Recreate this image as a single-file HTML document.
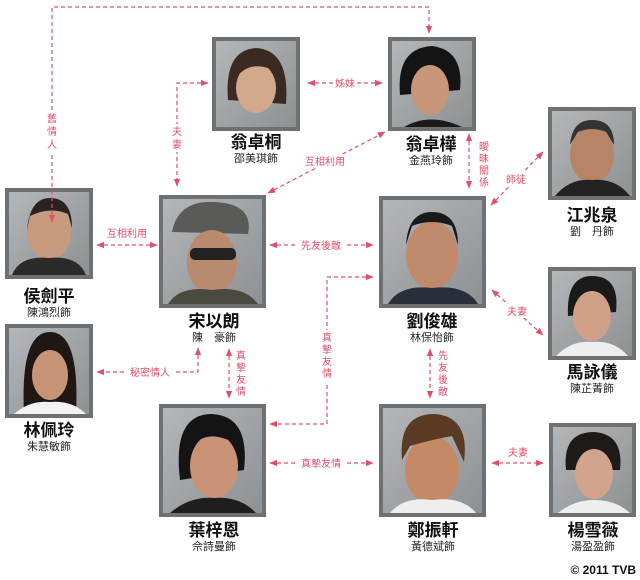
<!DOCTYPE html>
<html><head><meta charset="utf-8"><style>
html,body{margin:0;padding:0;background:#fff;}
svg{display:block}
.n{font-family:"Liberation Sans","Noto Sans CJK TC",sans-serif;font-weight:bold;font-size:17px;fill:#111;text-anchor:middle}
.s{font-family:"Liberation Sans","Noto Sans CJK TC",sans-serif;font-size:11px;fill:#222;text-anchor:middle}
.l{font-family:"Liberation Sans","Noto Sans CJK TC",sans-serif;font-size:10px;fill:#e0506a;text-anchor:middle}
.c{fill:none;stroke:#e0506a;stroke-width:1.2;stroke-dasharray:4 3}
</style></head><body>
<svg width="640" height="580" viewBox="0 0 640 580" xmlns="http://www.w3.org/2000/svg">
<defs>
<marker id="a" viewBox="0 0 10 10" refX="9" refY="5" markerWidth="8" markerHeight="8" orient="auto-start-reverse" markerUnits="userSpaceOnUse"><path d="M0,1 L10,5 L0,9 z" fill="#e0506a"/></marker>
<linearGradient id="g" x1="0" y1="0" x2="1" y2="1"><stop offset="0" stop-color="#b4b7ba"/><stop offset="1" stop-color="#8e9194"/></linearGradient>
<g id="p"><rect x="0" y="0" width="1" height="1" fill="#6e7174"/></g>
</defs>

<!-- photos -->
<g>
<rect x="5" y="188" width="88" height="91" fill="#6e7174"/><rect x="9" y="192" width="80" height="83" fill="url(#g)"/><ellipse cx="49" cy="232" rx="22" ry="28" fill="#c89a7e"/><path d="M27,230 Q30,198 50,198 Q72,198 72,228 L68,214 Q50,206 30,216 Z" fill="#2a2220"/><path d="M12,275 Q20,255 49,258 Q78,255 86,275 Z" fill="#2a2a2a"/>
<rect x="212" y="37" width="88" height="94" fill="#6e7174"/><rect x="216" y="41" width="80" height="86" fill="url(#g)"/><path d="M228,100 Q224,50 256,48 Q290,50 286,104 Z" fill="#3a2a22"/><ellipse cx="256" cy="88" rx="20" ry="25" fill="#d2a88c"/><path d="M236,78 Q250,58 278,72 L278,60 Q256,48 236,64Z" fill="#3a2a22"/>
<rect x="388" y="37" width="88" height="94" fill="#6e7174"/><rect x="392" y="41" width="80" height="86" fill="url(#g)"/><path d="M400,95 Q396,48 432,46 Q464,50 460,90 Z" fill="#141414"/><ellipse cx="430" cy="90" rx="19" ry="25" fill="#c8967a"/><path d="M404,127 Q430,112 462,127Z" fill="#1a1a1a"/>
<rect x="548" y="107" width="88" height="93" fill="#6e7174"/><rect x="552" y="111" width="80" height="85" fill="url(#g)"/><ellipse cx="592" cy="155" rx="22" ry="28" fill="#b88466"/><path d="M570,145 Q572,120 592,120 Q614,120 614,145 L606,132 Q592,126 578,132Z" fill="#333"/><path d="M555,196 Q570,178 592,180 Q616,178 630,196Z" fill="#222"/>
<rect x="159" y="195" width="107" height="113" fill="#6e7174"/><rect x="163" y="199" width="99" height="105" fill="url(#g)"/><path d="M172,232 Q178,200 215,202 Q254,204 248,234 Z" fill="#5a5a58"/><ellipse cx="212" cy="262" rx="25" ry="32" fill="#b88a70"/><rect x="190" y="248" width="46" height="12" rx="5" fill="#222"/><path d="M168,304 Q180,285 212,290 Q244,285 258,304Z" fill="#4a4a40"/>
<rect x="379" y="196" width="107" height="112" fill="#6e7174"/><rect x="383" y="200" width="99" height="104" fill="url(#g)"/><ellipse cx="432" cy="255" rx="26" ry="34" fill="#c08a6c"/><path d="M406,245 Q408,212 432,212 Q458,212 458,245 L452,226 Q432,218 412,226Z" fill="#1a1a1a"/><path d="M388,304 Q400,284 432,288 Q466,284 478,304Z" fill="#2a2e3a"/>
<rect x="548" y="267" width="88" height="93" fill="#6e7174"/><rect x="552" y="271" width="80" height="85" fill="url(#g)"/><path d="M568,316 Q566,276 592,276 Q620,276 616,312Z" fill="#1a1a1a"/><ellipse cx="592" cy="316" rx="19" ry="25" fill="#d0a088"/><path d="M556,356 Q572,340 592,342 Q614,340 628,356Z" fill="#eee"/>
<rect x="5" y="324" width="88" height="94" fill="#6e7174"/><rect x="9" y="328" width="80" height="86" fill="url(#g)"/><path d="M24,414 Q20,332 50,332 Q80,332 76,414Z" fill="#1e1714"/><ellipse cx="50" cy="375" rx="18" ry="25" fill="#c89478"/><path d="M14,414 Q30,400 50,402 Q72,400 86,414Z" fill="#f2f2f2"/>
<rect x="159" y="404" width="107" height="113" fill="#6e7174"/><rect x="163" y="408" width="99" height="105" fill="url(#g)"/><path d="M180,480 Q172,414 212,414 Q250,416 244,470Z" fill="#141414"/><ellipse cx="214" cy="466" rx="24" ry="32" fill="#c99276"/><path d="M186,458 Q200,422 240,446 L238,430 Q214,416 186,436Z" fill="#141414"/><path d="M170,513 Q190,496 214,498 Q240,496 256,513Z" fill="#1e1e1e"/>
<rect x="379" y="404" width="107" height="113" fill="#6e7174"/><rect x="383" y="408" width="99" height="105" fill="url(#g)"/><ellipse cx="432" cy="470" rx="27" ry="34" fill="#c48a66"/><path d="M402,460 Q398,414 434,414 Q470,416 464,462 L452,436 Q430,440 410,446Z" fill="#5a3a22"/><path d="M390,513 Q404,496 432,500 Q462,496 476,513Z" fill="#eee"/>
<rect x="549" y="423" width="87" height="94" fill="#6e7174"/><rect x="553" y="427" width="79" height="86" fill="url(#g)"/><path d="M566,470 Q562,432 594,432 Q624,434 620,470Z" fill="#1e1a18"/><ellipse cx="594" cy="474" rx="19" ry="25" fill="#d2a48e"/><path d="M558,513 Q574,500 594,500 Q616,500 630,513Z" fill="#eee"/>
</g>

<!-- names -->
<text class="n" x="49" y="302">侯劍平</text><text class="s" x="49" y="316">陳鴻烈飾</text>
<text class="n" x="256" y="148">翁卓桐</text><text class="s" x="256" y="162">邵美琪飾</text>
<text class="n" x="431" y="150">翁卓樺</text><text class="s" x="431" y="164">金燕玲飾</text>
<text class="n" x="592" y="221">江兆泉</text><text class="s" x="592" y="235">劉　丹飾</text>
<text class="n" x="214" y="327">宋以朗</text><text class="s" x="214" y="341">陳　豪飾</text>
<text class="n" x="432" y="327">劉俊雄</text><text class="s" x="432" y="341">林保怡飾</text>
<text class="n" x="592" y="378">馬詠儀</text><text class="s" x="592" y="392">陳芷菁飾</text>
<text class="n" x="49" y="436">林佩玲</text><text class="s" x="49" y="450">朱慧敏飾</text>
<text class="n" x="214" y="536">葉梓恩</text><text class="s" x="214" y="550">佘詩曼飾</text>
<text class="n" x="433" y="536">鄭振軒</text><text class="s" x="433" y="550">黃德斌飾</text>
<text class="n" x="593" y="536">楊雪薇</text><text class="s" x="593" y="550">湯盈盈飾</text>
<text x="636" y="574" text-anchor="end" font-family="Liberation Sans,sans-serif" font-weight="bold" font-size="12" fill="#111">© 2011 TVB</text>

<!-- connectors -->
<path class="c" d="M52,222 L52,7 L429,7 L429,33" marker-start="url(#a)" marker-end="url(#a)"/>
<rect x="46" y="112" width="12" height="40" fill="#fff"/>
<text class="l" x="52" y="122">舊</text><text class="l" x="52" y="135">情</text><text class="l" x="52" y="148">人</text>

<path class="c" d="M208,83 L177,83 L177,186" marker-start="url(#a)" marker-end="url(#a)"/>
<rect x="171" y="124" width="12" height="28" fill="#fff"/>
<text class="l" x="177" y="135">夫</text><text class="l" x="177" y="148">妻</text>

<path class="c" d="M308,83 L382,83" marker-start="url(#a)" marker-end="url(#a)"/>
<rect x="333" y="76" width="24" height="14" fill="#fff"/><text class="l" x="345" y="87">姊妹</text>

<path class="c" d="M268,193 L385,132" marker-start="url(#a)" marker-end="url(#a)"/>
<rect x="302" y="154" width="46" height="14" fill="#fff"/><text class="l" x="325" y="165">互相利用</text>

<path class="c" d="M469,134 L469,188" marker-start="url(#a)" marker-end="url(#a)"/>
<text class="l" x="484" y="150">曖</text><text class="l" x="484" y="162">昧</text><text class="l" x="484" y="174">關</text><text class="l" x="484" y="186">係</text>

<path class="c" d="M491,205 L543,152" marker-start="url(#a)" marker-end="url(#a)"/>
<rect x="504" y="172" width="24" height="14" fill="#fff"/><text class="l" x="516" y="183">師徒</text>

<path class="c" d="M97,245 L157,245" marker-start="url(#a)" marker-end="url(#a)"/>
<text class="l" x="127" y="237">互相利用</text>

<path class="c" d="M270,245 L373,245" marker-start="url(#a)" marker-end="url(#a)"/>
<rect x="298" y="238" width="46" height="14" fill="#fff"/><text class="l" x="321" y="249">先友後敵</text>

<path class="c" d="M492,290 L543,335" marker-start="url(#a)" marker-end="url(#a)"/>
<rect x="505" y="304" width="24" height="14" fill="#fff"/><text class="l" x="517" y="315">夫妻</text>

<path class="c" d="M373,277 L327,277 L327,424 L270,424" marker-start="url(#a)" marker-end="url(#a)"/>
<rect x="321" y="330" width="12" height="52" fill="#fff"/>
<text class="l" x="327" y="341">真</text><text class="l" x="327" y="353">摯</text><text class="l" x="327" y="365">友</text><text class="l" x="327" y="377">情</text>

<path class="c" d="M198,348 L198,372 L97,372" marker-start="url(#a)" marker-end="url(#a)"/>
<rect x="127" y="365" width="46" height="14" fill="#fff"/><text class="l" x="150" y="376">秘密情人</text>

<path class="c" d="M229,349 L229,398" marker-start="url(#a)" marker-end="url(#a)"/>
<text class="l" x="241" y="359">真</text><text class="l" x="241" y="371">摯</text><text class="l" x="241" y="383">友</text><text class="l" x="241" y="395">情</text>

<path class="c" d="M430,349 L430,398" marker-start="url(#a)" marker-end="url(#a)"/>
<text class="l" x="443" y="359">先</text><text class="l" x="443" y="371">友</text><text class="l" x="443" y="383">後</text><text class="l" x="443" y="395">敵</text>

<path class="c" d="M270,463 L373,463" marker-start="url(#a)" marker-end="url(#a)"/>
<rect x="298" y="456" width="46" height="14" fill="#fff"/><text class="l" x="321" y="467">真摯友情</text>

<path class="c" d="M492,463 L543,463" marker-start="url(#a)" marker-end="url(#a)"/>
<text class="l" x="518" y="456">夫妻</text>
</svg>
</body></html>
